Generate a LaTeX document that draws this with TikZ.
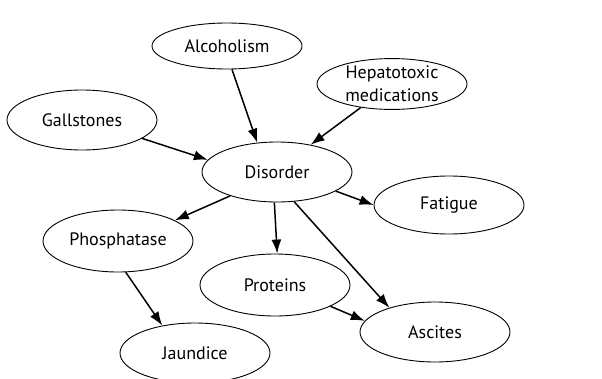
\documentclass[tikz,border=0pt]{standalone}
\usepackage{fontspec}
\setmainfont{PT Sans}
\usetikzlibrary{shapes.geometric,arrows.meta}
\tikzset{
    blob/.style={draw,ellipse,line width=0.9pt,minimum width=150pt,minimum height=60pt,inner sep=0pt,align=center,font=\fontsize{18}{23}\selectfont},
    link/.style={-{Latex[length=14pt,width=10pt]},line width=1.5pt}
}
\begin{document}
\begin{tikzpicture}[x=1pt,y=-1pt]
\useasboundingbox (0,0) rectangle (602,378);
\node[blob,minimum height=46pt] (alc) at (227,46) {Alcoholism};
\node[blob,minimum height=49pt] (hep) at (392,84) {Hepatotoxic\\medications};
\node[blob] (gall) at (82,120) {Gallstones};
\node[blob] (dis) at (277,172) {Disorder};
\node[blob,minimum height=58pt] (fat) at (449,205) {Fatigue};
\node[blob,minimum height=62pt] (phos) at (118,241) {Phosphatase};
\node[blob,minimum height=62pt] (prot) at (275,285) {Proteins};
\node[blob] (asc) at (435,332) {Ascites};
\node[blob] (jau) at (195,353) {Jaundice};
\draw[link] (alc.-78) -- (dis.124);
\draw[link] (hep.217) -- (dis.39);
\draw[link] (gall.-17) -- (dis.170);
\draw[link] (dis.-18) -- (fat.180);
\draw[link] (dis.207) -- (phos.20);
\draw[link] (dis.-95) -- (prot.86);
\draw[link] (dis.-60) -- (asc.152);
\draw[link] (phos.-76) -- (jau.140);
\draw[link] (prot.-21) -- (asc.171);
\end{tikzpicture}
\end{document}
